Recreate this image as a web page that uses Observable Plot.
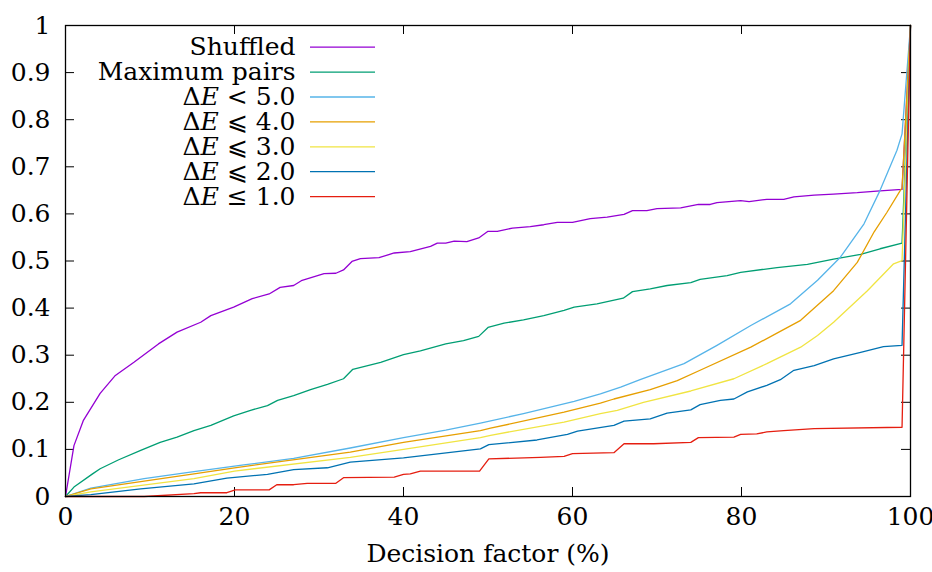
<!DOCTYPE html>
<html>
<head>
<meta charset="utf-8">
<script src="https://cdn.jsdelivr.net/npm/d3@7"></script>
<script src="https://cdn.jsdelivr.net/npm/@observablehq/plot@0.6"></script>
<style>
  html, body { margin: 0; padding: 0; background: white; }
  svg text { font-family: "DejaVu Serif", serif; }
</style>
</head>
<body>
<div id="chart"></div>
<script>
// ---- data ----
const xTicks = [0, 20, 40, 60, 80, 100];
const yTicks = [0, 0.1, 0.2, 0.3, 0.4, 0.5, 0.6, 0.7, 0.8, 0.9, 1];
const xLabel = "Decision factor (%)";

const seriesNames = ["Shuffled", "Maximum pairs", "ΔE < 5.0", "ΔE ⩽ 4.0", "ΔE ⩽ 3.0", "ΔE ⩽ 2.0", "ΔE ≤ 1.0"];
const seriesColors = ["#9400d3", "#009e73", "#56b4e9", "#e69f00", "#f0e442", "#0072b2", "#e51e10"];

const shuffledX = [0, 1.0, 2.1, 4.1, 5.9, 8.1, 11.0, 13.2, 16.0, 17.2, 19.9, 22.1, 24.1, 25.4, 27.0, 28.0, 30.6, 32.0, 32.9, 33.9, 34.9, 37.1, 38.9, 40.8, 43.2, 44.0, 45.0, 46.0, 47.5, 48.9, 50.0, 51.1, 52.9, 55.0, 56.6, 58.2, 60.0, 62.1, 64.1, 66.1, 67.1, 68.8, 70.0, 72.8, 74.9, 76.3, 77.1, 79.9, 80.9, 83.0, 85.0, 86.2, 88.6, 90.9, 93.7, 96.4, 99.0, 100];
const shuffledY = [0, 0.108, 0.161, 0.219, 0.257, 0.285, 0.324, 0.349, 0.370, 0.384, 0.402, 0.420, 0.430, 0.444, 0.448, 0.459, 0.473, 0.474, 0.481, 0.499, 0.505, 0.507, 0.517, 0.520, 0.531, 0.538, 0.538, 0.542, 0.541, 0.549, 0.563, 0.563, 0.570, 0.573, 0.577, 0.582, 0.582, 0.590, 0.593, 0.599, 0.607, 0.607, 0.611, 0.613, 0.620, 0.620, 0.624, 0.628, 0.626, 0.631, 0.631, 0.636, 0.640, 0.642, 0.645, 0.649, 0.652, 1.0];

const maxPairsX = [0, 1.0, 3.2, 4.1, 6.3, 8.9, 11.2, 13.2, 15.2, 17.2, 19.9, 21.9, 23.9, 25.1, 27.0, 29.0, 31.0, 32.9, 34.0, 37.3, 40.0, 42.0, 45.0, 47.1, 48.9, 50.0, 51.9, 54.2, 56.6, 59.0, 60.2, 62.9, 66.0, 67.1, 69.2, 71.2, 74.0, 75.1, 78.3, 79.9, 84.2, 87.8, 90.9, 94.1, 96.4, 99.0, 100];
const maxPairsY = [0, 0.020, 0.048, 0.059, 0.078, 0.098, 0.115, 0.126, 0.140, 0.151, 0.171, 0.183, 0.193, 0.204, 0.214, 0.227, 0.238, 0.250, 0.270, 0.285, 0.301, 0.309, 0.324, 0.331, 0.340, 0.359, 0.368, 0.375, 0.384, 0.395, 0.402, 0.409, 0.421, 0.435, 0.441, 0.448, 0.454, 0.461, 0.469, 0.476, 0.486, 0.493, 0.504, 0.514, 0.526, 0.538, 1.0];

const de5X = [0, 3.0, 9.3, 15.2, 21.1, 27.0, 33.7, 40.0, 45.0, 49.1, 54.2, 60.2, 63.3, 65.7, 68.0, 73.2, 77.1, 81.1, 85.8, 89.0, 91.7, 94.5, 96.4, 98.4, 99.0, 100];
const de5Y = [0, 0.018, 0.038, 0.053, 0.067, 0.081, 0.103, 0.125, 0.141, 0.156, 0.176, 0.202, 0.218, 0.232, 0.248, 0.282, 0.321, 0.363, 0.409, 0.459, 0.508, 0.579, 0.650, 0.735, 0.770, 1.0];

const de4X = [0, 3.0, 15.2, 20.0, 33.7, 40.0, 49.1, 50.3, 59.0, 63.3, 64.9, 69.2, 72.4, 75.1, 81.1, 84.2, 87.0, 90.9, 93.7, 95.7, 97.2, 98.8, 99.0, 100];
const de4Y = [0, 0.016, 0.048, 0.061, 0.094, 0.115, 0.140, 0.145, 0.179, 0.198, 0.207, 0.227, 0.246, 0.268, 0.317, 0.347, 0.374, 0.437, 0.497, 0.562, 0.603, 0.650, 0.655, 1.0];

const de3X = [0, 3.0, 15.2, 20.0, 33.7, 40.0, 49.1, 50.3, 59.0, 63.3, 65.3, 68.4, 74.0, 79.1, 83.0, 87.0, 89.0, 90.9, 94.9, 98.0, 99.0, 100];
const de3Y = [0, 0.010, 0.038, 0.054, 0.083, 0.100, 0.125, 0.130, 0.158, 0.176, 0.183, 0.200, 0.224, 0.250, 0.282, 0.317, 0.342, 0.370, 0.437, 0.494, 0.501, 1.0];

const de2X = [0, 3.0, 8.9, 15.2, 19.1, 23.9, 27.0, 31.0, 33.7, 40.0, 49.1, 50.1, 55.8, 59.4, 60.6, 64.9, 66.1, 69.2, 71.2, 74.0, 75.1, 77.5, 79.1, 80.7, 83.0, 84.6, 86.2, 88.6, 90.9, 94.1, 96.8, 99.0, 100];
const de2Y = [0, 0.004, 0.016, 0.027, 0.039, 0.047, 0.057, 0.061, 0.073, 0.082, 0.101, 0.110, 0.120, 0.132, 0.139, 0.151, 0.160, 0.165, 0.177, 0.184, 0.195, 0.204, 0.207, 0.222, 0.236, 0.248, 0.268, 0.278, 0.292, 0.306, 0.318, 0.321, 1.0];

const de1X = [0, 9.3, 15.2, 16.0, 19.1, 20.1, 24.1, 25.0, 27.0, 28.6, 32.0, 32.9, 38.9, 40.0, 40.8, 42.0, 49.0, 50.1, 56.2, 59.0, 60.0, 64.9, 66.1, 69.6, 74.0, 74.9, 79.1, 79.9, 81.8, 83.0, 85.0, 88.6, 99.0, 100];
const de1Y = [0, 0, 0.006, 0.008, 0.008, 0.014, 0.014, 0.025, 0.025, 0.028, 0.028, 0.040, 0.041, 0.047, 0.048, 0.054, 0.054, 0.080, 0.083, 0.085, 0.091, 0.093, 0.112, 0.112, 0.115, 0.125, 0.126, 0.132, 0.133, 0.137, 0.140, 0.144, 0.147, 1.0];

const seriesX = [shuffledX, maxPairsX, de5X, de4X, de3X, de2X, de1X];
const seriesY = [shuffledY, maxPairsY, de5Y, de4Y, de3Y, de2Y, de1Y];

// ---- layout ----
const W = 932, H = 572;
const mL = 65, mR = 22, mT = 25, mB = 76;
const innerW = W - mL - mR, innerH = H - mT - mB;
const tickLen = 9;
const FONT = "DejaVu Serif";
const FS = 25;

const lineMarks = seriesNames.map((name, i) =>
  Plot.line(seriesX[i].map((x, j) => ({x, y: seriesY[i][j]})), {
    x: "x", y: "y", stroke: seriesColors[i], strokeWidth: 1.3
  })
);

const legendMarks = [];
seriesNames.forEach((name, i) => {
  const rowDy = 21.7 + i * 24.9;
  legendMarks.push(Plot.text([name], {
    frameAnchor: "top-left", text: d => d, dx: 230, dy: rowDy,
    textAnchor: "end", lineAnchor: "middle", fontSize: FS, fontFamily: FONT, fill: "black"
  }));
  legendMarks.push(Plot.ruleY([1], {
    insetLeft: 245, insetRight: innerW - 310, dy: rowDy,
    stroke: seriesColors[i], strokeWidth: 1.3
  }));
});

const chart = Plot.plot({
  width: W, height: H,
  marginLeft: mL, marginRight: mR, marginTop: mT, marginBottom: mB,
  x: {domain: [0, 100]},
  y: {domain: [0, 1]},
  style: {fontFamily: FONT, fontSize: FS + "px", background: "white", color: "black"},
  marks: [
    Plot.axisX(xTicks, {tickSize: 0, tickPadding: 11, label: null, fontSize: FS, fontFamily: FONT, tickFormat: d => String(d)}),
    Plot.axisY(yTicks, {tickSize: 0, tickPadding: 15, label: null, fontSize: FS, fontFamily: FONT, tickFormat: d => String(d)}),
    Plot.ruleX(xTicks, {insetTop: innerH - tickLen, stroke: "black", strokeWidth: 1}),
    Plot.ruleX(xTicks, {insetBottom: innerH - tickLen, stroke: "black", strokeWidth: 1}),
    Plot.ruleY(yTicks, {insetRight: innerW - tickLen, stroke: "black", strokeWidth: 1}),
    Plot.ruleY(yTicks, {insetLeft: innerW - tickLen, stroke: "black", strokeWidth: 1}),
    ...lineMarks,
    ...legendMarks,
    Plot.frame({stroke: "black", strokeWidth: 1.3}),
    Plot.text([xLabel], {frameAnchor: "bottom", text: d => d, dy: 57, lineAnchor: "middle", fontSize: FS, fontFamily: FONT, fill: "black"})
  ]
});

// italic E in the ΔE legend labels
chart.querySelectorAll("text").forEach(t => {
  const s = t.textContent;
  if (s.startsWith("ΔE")) {
    t.textContent = "";
    const ns = "http://www.w3.org/2000/svg";
    const a = document.createElementNS(ns, "tspan"); a.textContent = "Δ";
    const b = document.createElementNS(ns, "tspan"); b.textContent = "E"; b.setAttribute("font-style", "italic");
    const c = document.createElementNS(ns, "tspan"); c.textContent = s.slice(2);
    t.append(a, b, c);
  }
});

document.getElementById("chart").appendChild(chart);
</script>
</body>
</html>
